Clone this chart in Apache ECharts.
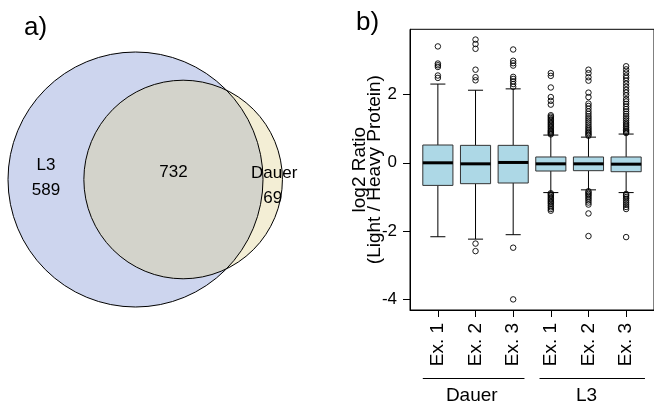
<!DOCTYPE html>
<html><head><meta charset="utf-8">
<script src="https://cdn.jsdelivr.net/npm/echarts@6/dist/echarts.min.js"></script>
<style>html,body{margin:0;padding:0;background:#fff}#c{width:654px;height:402px}</style>
</head><body><div id="c"></div>
<script>
// ---------- Panel a) Venn counts ----------
const vennNames = ['L3', 'Dauer'];
const onlyL3 = 589;
const both = 732;
const onlyDauer = 69;

// ---------- Panel b) boxplot ----------
const expLabels = ['Ex. 1', 'Ex. 2', 'Ex. 3', 'Ex. 1', 'Ex. 2', 'Ex. 3'];
const groupNames = ['Dauer', 'L3'];
const groupFrom = [0.6, 3.7];
const groupTo = [3.3, 6.5];
const groupLabelAt = [1.9, 4.95];
const yTicks = [-4, -2, 0, 2];

const whiskerLow  = [-2.16, -2.23, -2.10, -0.87, -0.79, -0.87];
const q1          = [-0.66, -0.61, -0.59, -0.24, -0.23, -0.26];
const medians     = [ 0.00, -0.03,  0.01, -0.03, -0.03, -0.04];
const q3          = [ 0.52,  0.51,  0.51,  0.17,  0.17,  0.17];
const whiskerHigh = [ 2.30,  2.12,  2.16,  0.81,  0.75,  0.84];

const outDauer1 = [3.40, 2.90, 2.85, 2.80, 2.55, 2.48];
const outDauer2 = [3.60, 3.47, 3.33, 2.72, 2.50, 2.41, -2.36, -2.58];
const outDauer3 = [3.31, 2.98, 2.91, 2.84, 2.51, 2.45, 2.38, 2.30, 2.22, -2.48, -3.99];
const outL3_1 = [2.62, 2.54, 2.20, 1.92, 1.81, 1.70, 1.39, 1.35, 1.31, 1.27, 1.23, 1.19, 1.15, 1.11, 1.07, 1.03, 0.99, 0.95, 0.92, 0.89, 0.86, 0.83,
                 -0.89, -0.92, -0.96, -1.00, -1.04, -1.08, -1.12, -1.16, -1.20, -1.25, -1.30, -1.35, -1.40];
const outL3_2 = [2.72, 2.62, 2.50, 2.40, 2.05, 1.92, 1.73, 1.66, 1.58, 1.50, 1.43, 1.36, 1.30, 1.24, 1.18, 1.12, 1.06, 1.01, 0.96, 0.91, 0.87, 0.83, 0.79,
                 -0.83, -0.87, -0.91, -0.95, -1.00, -1.05, -1.10, -1.16, -1.22, -1.48, -2.14];
const outL3_3 = [2.82, 2.73, 2.64, 2.55, 2.48, 2.40, 2.31, 2.22, 2.13, 2.05, 1.97, 1.86, 1.79, 1.72, 1.64, 1.57, 1.50, 1.43, 1.36, 1.30, 1.24, 1.18, 1.13, 1.08, 1.03, 0.98, 0.94, 0.90, 0.87,
                 -0.91, -0.95, -1.00, -1.05, -1.11, -1.17, -1.23, -1.29, -1.35, -2.17];

const FONT = '"Liberation Sans", Arial, Helvetica, sans-serif';

// ---- Venn geometry (area-proportional), derived from the counts ----
const totL3 = onlyL3 + both, totDauer = onlyDauer + both;
const r1 = Math.sqrt(totL3 / Math.PI), r2 = Math.sqrt(totDauer / Math.PI);
function lensArea(d) {
  if (d >= r1 + r2) return 0;
  if (d <= Math.abs(r1 - r2)) return Math.PI * Math.min(r1, r2) ** 2;
  const a1 = Math.acos((d * d + r1 * r1 - r2 * r2) / (2 * d * r1));
  const a2 = Math.acos((d * d + r2 * r2 - r1 * r1) / (2 * d * r2));
  return r1 * r1 * a1 + r2 * r2 * a2 - 0.5 * Math.sqrt((-d + r1 + r2) * (d + r1 - r2) * (d - r1 + r2) * (d + r1 + r2));
}
let lo = Math.abs(r1 - r2), hi = r1 + r2;
for (let i = 0; i < 80; i++) { const m = (lo + hi) / 2; if (lensArea(m) > both) lo = m; else hi = m; }
const dist = (lo + hi) / 2;
const vennPx = 127.5 / r1;           // pixels per unit
const vennW = (r1 + dist + r2) * vennPx;
const vennH = 2 * r1 * vennPx;

const Y_MIN = -4.3, Y_MAX = 3.9;

const chart = echarts.init(document.getElementById('c'), null, { renderer: 'canvas' });

const boxData = expLabels.map((_, i) => [i + 1, whiskerLow[i], q1[i], medians[i], q3[i], whiskerHigh[i]]);
const outlierSets = [outDauer1, outDauer2, outDauer3, outL3_1, outL3_2, outL3_3];
const outlierData = [];
outlierSets.forEach((arr, i) => arr.forEach(v => outlierData.push([i + 1, v])));
const groupData = groupNames.map((g, i) => [groupFrom[i], groupTo[i], groupLabelAt[i], i]);

function txt(text, x, y, size) {
  return { type: 'text', style: { text: text, x: x, y: y, fill: '#000', fontSize: size, fontFamily: FONT, align: 'center', verticalAlign: 'middle' } };
}

chart.setOption({
  animation: false,
  backgroundColor: '#fff',
  textStyle: { fontFamily: FONT },
  graphic: [
    { type: 'text', left: 24, top: 15, style: { text: 'a)', fontSize: 26, fontFamily: FONT, fill: '#000' } },
    { type: 'text', left: 356, top: 10, style: { text: 'b)', fontSize: 26, fontFamily: FONT, fill: '#000' } }
  ],
  grid: [
    { left: 8, top: 52, width: vennW, height: vennH, show: false },
    { left: 410, top: 29.3, width: 253.4, height: 280.7, show: true, borderColor: '#000', borderWidth: 1, backgroundColor: 'transparent' }
  ],
  xAxis: [
    { gridIndex: 0, type: 'value', min: -r1, max: dist + r2, show: false },
    { gridIndex: 1, type: 'value', min: 0.26, max: 6.74,
      axisLine: { show: true, onZero: false, lineStyle: { color: '#000', width: 1 } },
      axisTick: { show: true, customValues: [1, 2, 3, 4, 5, 6], length: 7, lineStyle: { color: '#000' } },
      axisLabel: { show: true, customValues: [1, 2, 3, 4, 5, 6], formatter: v => expLabels[Math.round(v) - 1], rotate: 90, margin: 13, fontSize: 19, color: '#000', fontFamily: FONT },
      splitLine: { show: false } }
  ],
  yAxis: [
    { gridIndex: 0, type: 'value', min: -r1, max: r1, show: false },
    { gridIndex: 1, type: 'value', min: Y_MIN, max: Y_MAX,
      axisLine: { show: true, onZero: false, lineStyle: { color: '#000', width: 1 } },
      axisTick: { show: true, customValues: yTicks, length: 7, lineStyle: { color: '#000' } },
      axisLabel: { show: true, customValues: yTicks, margin: 13, fontSize: 17, color: '#000', fontFamily: FONT },
      splitLine: { show: false },
      name: 'log2 Ratio\n(Light / Heavy Protein)', nameLocation: 'middle', nameRotate: 90, nameGap: 28,
      nameMoveOverlap: false,
      nameTextStyle: { fontSize: 19, lineHeight: 15, color: '#000', fontFamily: FONT } }
  ],
  series: [
    {
      type: 'custom', xAxisIndex: 0, yAxisIndex: 0, silent: true,
      data: [[0, 0, r1, dist, 0, r2]],
      renderItem: function (params, api) {
        const c1 = api.coord([api.value(0), api.value(1)]);
        const c2 = api.coord([api.value(3), api.value(4)]);
        const R1 = api.size([api.value(2), 0])[0];
        const R2 = api.size([api.value(5), 0])[0];
        const D = c2[0] - c1[0];
        const a = (D * D + R1 * R1 - R2 * R2) / (2 * D);
        const h = Math.sqrt(R1 * R1 - a * a);
        const px = c1[0] + a, ty = c1[1] - h, by = c1[1] + h;
        const lens = 'M' + px + ' ' + ty + ' A' + R2 + ' ' + R2 + ' 0 1 0 ' + px + ' ' + by +
                     ' A' + R1 + ' ' + R1 + ' 0 0 0 ' + px + ' ' + ty + ' Z';
        const xL = ((c1[0] - R1) + (c2[0] - R2)) / 2;
        const xM = ((c2[0] - R2) + (c1[0] + R1)) / 2;
        const xR = ((c1[0] + R1) + (c2[0] + R2)) / 2;
        const cy = c1[1];
        return {
          type: 'group',
          children: [
            { type: 'circle', shape: { cx: c1[0], cy: c1[1], r: R1 }, style: { fill: '#CDD5EE', stroke: null } },
            { type: 'circle', shape: { cx: c2[0], cy: c2[1], r: R2 }, style: { fill: '#F3EED5', stroke: null } },
            { type: 'path', shape: { pathData: lens }, style: { fill: '#D3D3CB', stroke: null } },
            { type: 'circle', shape: { cx: c1[0], cy: c1[1], r: R1 }, style: { fill: 'none', stroke: '#000', lineWidth: 1 } },
            { type: 'circle', shape: { cx: c2[0], cy: c2[1], r: R2 }, style: { fill: 'none', stroke: '#000', lineWidth: 1 } },
            txt(vennNames[0], xL, cy - 14, 17),
            txt(String(onlyL3), xL, cy + 10.5, 17),
            txt(String(both), xM, cy - 7, 17),
            txt(vennNames[1], xR + 1.5, cy - 6, 17),
            txt(String(onlyDauer), xR, cy + 19, 17)
          ]
        };
      }
    },
    {
      type: 'custom', xAxisIndex: 1, yAxisIndex: 1, silent: true,
      data: boxData,
      renderItem: function (params, api) {
        const x = api.value(0);
        const pLo = api.coord([x, api.value(1)]);
        const pQ1 = api.coord([x, api.value(2)]);
        const pMed = api.coord([x, api.value(3)]);
        const pQ3 = api.coord([x, api.value(4)]);
        const pHi = api.coord([x, api.value(5)]);
        const bw = api.size([0.8, 0])[0];
        const cw = bw / 2;
        const cx = pMed[0];
        const ln = (x1, y1, x2, y2, w) => ({ type: 'line', shape: { x1, y1, x2, y2 }, style: { stroke: '#000', lineWidth: w || 1 } });
        return {
          type: 'group',
          children: [
            ln(cx, pLo[1], cx, pQ1[1]),
            ln(cx, pQ3[1], cx, pHi[1]),
            ln(cx - cw / 2, pLo[1], cx + cw / 2, pLo[1]),
            ln(cx - cw / 2, pHi[1], cx + cw / 2, pHi[1]),
            { type: 'rect', shape: { x: cx - bw / 2, y: pQ3[1], width: bw, height: pQ1[1] - pQ3[1] }, style: { fill: '#ADD8E6', stroke: '#333', lineWidth: 1 } },
            ln(cx - bw / 2, pMed[1], cx + bw / 2, pMed[1], 3)
          ]
        };
      }
    },
    {
      type: 'scatter', xAxisIndex: 1, yAxisIndex: 1, silent: true,
      data: outlierData, symbol: 'circle', symbolSize: 5.5,
      itemStyle: { color: 'rgba(0,0,0,0)', borderColor: '#000', borderWidth: 0.9, opacity: 1 }
    },
    {
      type: 'custom', xAxisIndex: 1, yAxisIndex: 1, silent: true, clip: false,
      data: groupData,
      renderItem: function (params, api) {
        const p1 = api.coord([api.value(0), Y_MIN]);
        const p2 = api.coord([api.value(1), Y_MIN]);
        const pl = api.coord([api.value(2), Y_MIN]);
        const name = groupNames[api.value(3)];
        return {
          type: 'group',
          children: [
            { type: 'line', shape: { x1: p1[0], y1: p1[1] + 68.5, x2: p2[0], y2: p2[1] + 68.5 }, style: { stroke: '#000', lineWidth: 1 } },
            txt(name, pl[0], pl[1] + 86, 19)
          ]
        };
      }
    }
  ]
});
</script>
</body></html>
